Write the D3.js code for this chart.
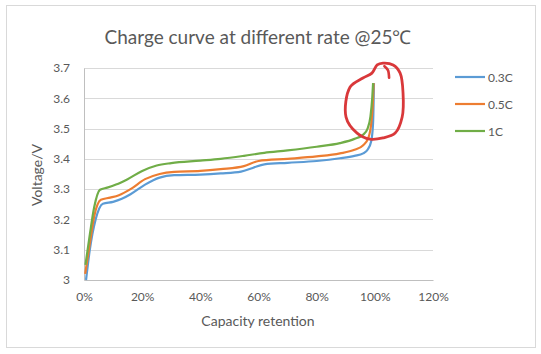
<!DOCTYPE html>
<html>
<head>
<meta charset="utf-8">
<script src="https://cdn.jsdelivr.net/npm/d3@7"></script>
<style>
  body { margin: 0; background: #fff; }
  text { font-family: Lato, "Open Sans", sans-serif; }
</style>
</head>
<body>
<div id="chart"></div>
<script>
// series: [capacity %, voltage V]
let rate03 = [[0.7,3.0],[2,3.1],[4,3.2],[6.5,3.252],[10,3.258],[13,3.268],[16,3.283],[21,3.315],[26,3.338],[31,3.346],[40,3.348],[47,3.352],[54,3.358],[58,3.37],[62,3.382],[70,3.387],[80,3.393],[88,3.402],[93,3.41],[96,3.418],[97.5,3.43],[98.8,3.46],[99.4,3.52],[99.7,3.65]];
let rate05 = [[0.4,3.02],[2,3.12],[3.5,3.21],[5.8,3.265],[9,3.272],[12,3.28],[16,3.3],[21,3.333],[26,3.35],[31,3.357],[40,3.36],[47,3.366],[55,3.376],[60,3.393],[70,3.4],[80,3.408],[88,3.418],[93,3.43],[96,3.445],[97.8,3.47],[98.8,3.52],[99.3,3.58],[99.6,3.65]];
let rate1 = [[0.5,3.05],[2,3.15],[3.5,3.24],[5.5,3.298],[8,3.305],[11,3.315],[15,3.333],[20,3.36],[25,3.378],[30,3.386],[40,3.394],[47,3.4],[55,3.41],[62,3.42],[70,3.428],[80,3.44],[88,3.452],[93,3.466],[96,3.48],[97.5,3.5],[98.5,3.54],[99.1,3.6],[99.4,3.65]];

let seriesNames = ["0.3C", "0.5C", "1C"];
let seriesColors = ["#5B9BD5", "#ED7D31", "#70AD47"];
let xTicks = [0, 20, 40, 60, 80, 100, 120];
let yTicks = [3, 3.1, 3.2, 3.3, 3.4, 3.5, 3.6, 3.7];

// hand drawn red mark around the end of the curves, in data units
let redLoop = [[90.1,3.538],[91.5,3.637],[95.9,3.667],[99.0,3.683],[100.8,3.71],[102.8,3.716],[106.3,3.71],[108.7,3.683],[109.7,3.617],[109.4,3.538],[107.0,3.485],[102.8,3.469],[98.3,3.465],[93.9,3.485]];
let redHook = [[103.3,3.706],[104.5,3.693],[104.9,3.668]];

let W = 541, H = 354;
let margin = {top: 68, right: 108, bottom: 74, left: 84};
let width = W - margin.left - margin.right;
let height = H - margin.top - margin.bottom;

let svg = d3.select("#chart").append("svg")
    .attr("width", W)
    .attr("height", H);

// chart border
svg.append("rect")
    .attr("x", 6.5).attr("y", 5.5)
    .attr("width", 529).attr("height", 342)
    .attr("fill", "#fff")
    .attr("stroke", "#D9D9D9");

let g = svg.append("g")
    .attr("transform", "translate(" + margin.left + "," + margin.top + ")");

let x = d3.scaleLinear().domain([0, 120]).range([0, width]);
let y = d3.scaleLinear().domain([3, 3.7]).range([height, 0]);

// gridlines
g.selectAll(".grid")
    .data(yTicks.slice(1))
    .enter().append("line")
    .attr("x1", 0).attr("x2", width)
    .attr("y1", d => Math.round(y(d)) + 0.5)
    .attr("y2", d => Math.round(y(d)) + 0.5)
    .attr("stroke", "#D9D9D9");

// axes
let xAxis = g.append("g")
    .attr("transform", "translate(0," + height + ")")
    .call(d3.axisBottom(x).tickValues(xTicks).tickFormat(d => d + "%").tickSize(0).tickPadding(12));
let yAxis = g.append("g")
    .call(d3.axisLeft(y).tickValues(yTicks).tickFormat(d => d3.format("")(d)).tickSize(0).tickPadding(14));

[xAxis, yAxis].forEach(a => {
    a.select(".domain").attr("stroke", "#BFBFBF");
    a.selectAll("text").attr("fill", "#595959").style("font-size", "12px");
});

// lines
let line = d3.line()
    .x(d => x(d[0]))
    .y(d => y(d[1]))
    .curve(d3.curveMonotoneX);

[rate03, rate05, rate1].forEach((s, i) => {
    g.append("path")
        .datum(s)
        .attr("fill", "none")
        .attr("stroke", seriesColors[i])
        .attr("stroke-width", 2.2)
        .attr("d", line);
});

// red annotation
g.append("path")
    .datum(redLoop)
    .attr("fill", "none")
    .attr("stroke", "#D9383A")
    .attr("stroke-width", 2.8)
    .attr("d", d3.line().x(d => x(d[0])).y(d => y(d[1])).curve(d3.curveCatmullRomClosed));
g.append("path")
    .datum(redHook)
    .attr("fill", "none")
    .attr("stroke", "#D9383A")
    .attr("stroke-width", 2.6)
    .attr("stroke-linecap", "round")
    .attr("d", d3.line().x(d => x(d[0])).y(d => y(d[1])).curve(d3.curveCatmullRom));

// title
svg.append("text")
    .attr("x", 258).attr("y", 44)
    .attr("text-anchor", "middle")
    .attr("fill", "#595959")
    .style("font-size", "19px")
    .text("Charge curve at different rate @25\u2103");

// axis titles
svg.append("text")
    .attr("x", 258).attr("y", 326)
    .attr("text-anchor", "middle")
    .attr("fill", "#595959")
    .style("font-size", "14px")
    .text("Capacity retention");

svg.append("text")
    .attr("transform", "translate(42,175) rotate(-90)")
    .attr("text-anchor", "middle")
    .attr("fill", "#595959")
    .style("font-size", "14px")
    .text("Voltage/V");

// legend
let legend = svg.append("g").attr("transform", "translate(455,77)");
let item = legend.selectAll(".item")
    .data(seriesNames)
    .enter().append("g")
    .attr("transform", (d, i) => "translate(0," + (i * 27) + ")");
item.append("line")
    .attr("x1", 0).attr("x2", 30)
    .attr("stroke", (d, i) => seriesColors[i])
    .attr("stroke-width", 2.2);
item.append("text")
    .attr("x", 33).attr("y", 4.5)
    .attr("fill", "#595959")
    .style("font-size", "12px")
    .text(d => d);
</script>
</body>
</html>
